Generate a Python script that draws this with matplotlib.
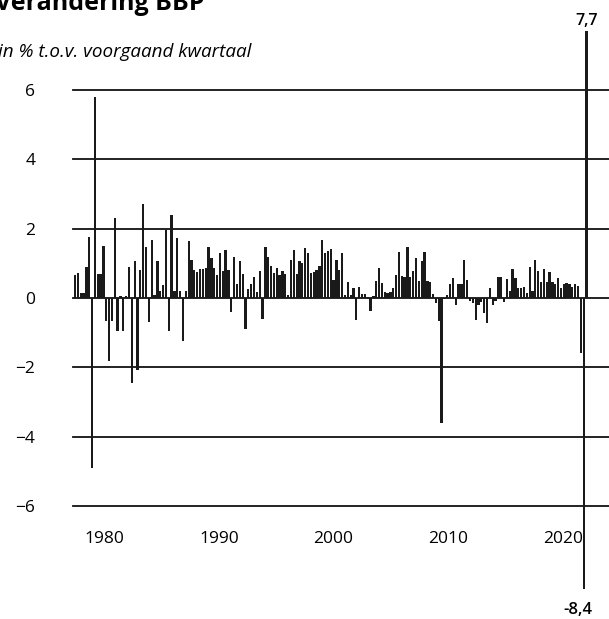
"""
Verandering BBP, kwartaalmutaties in procenten
"""
import matplotlib.pyplot as plt
import numpy as np

# kwartaalmutaties BBP (in % t.o.v. voorgaand kwartaal)
groei = [
    0.65, 0.72, 0.15, 0.15, 0.9, 1.75, -4.9, 5.8, 0.7, 0.7,
    1.5, -0.67, -1.83, -0.67, 2.3, -0.96, 0.05, -0.96, 0.05, 0.9,
    -2.46, 1.08, -2.07, 0.8, 2.7, 1.46, -0.7, 1.67, 0.1, 1.08,
    0.2, 0.37, 1.97, -0.96, 2.4, 0.2, 1.73, 0.2, -1.25, 0.2,
    1.63, 1.1, 0.8, 0.75, 0.85,
    0.85, 0.87, 1.47, 1.15, 0.87, 0.67, 1.29, 0.77, 1.39, 0.8,
    -0.4, 1.17, 0.39, 1.08, 0.69, -0.9, 0.26, 0.39, 0.6, 0.16,
    0.77, -0.61, 1.48, 1.17, 0.92, 0.72, 0.87, 0.67, 0.77, 0.69,
    0.1,
    1.09, 1.38, 0.7, 1.06, 1.01, 1.45, 1.3, 0.71, 0.75, 0.82,
    0.92, 1.66, 1.3, 1.37,
    1.4, 0.53, 1.1, 0.82, 1.3, 0.1, 0.46, 0.1, 0.29, -0.63,
    0.31, 0.12, 0.12, 0.02, -0.37, 0.05, 0.5, 0.87, 0.43, 0.17,
    0.14, 0.17, 0.29, 0.67, 1.33, 0.63, 0.6, 1.46, 0.6, 0.79,
    1.14, 0.48, 1.08, 1.33, 0.5, 0.45, 0.12, -0.14, -0.67, -3.6,
    -0.02, 0.1, 0.39, 0.58, -0.19, 0.4, 0.4, 1.1, 0.53,
    -0.1, -0.14, -0.63, -0.19, -0.12, -0.43, -0.72, 0.29, -0.19, -0.1,
    0.6, 0.6, -0.12, 0.55, 0.19, 0.85, 0.58, 0.29, 0.29, 0.31,
    0.15, 0.89, 0.19, 1.09, 0.79, 0.46, 0.85, 0.46, 0.74, 0.46,
    0.39, 0.58, 0.29, 0.4, 0.43, 0.39, 0.31, 0.4, 0.34, -1.59,
    -8.4, 7.7,
]
jaren = ["1980", "1990", "2000", "2010", "2020"]
y_ticks = [-6, -4, -2, 0, 2, 4, 6]

W, H = 609, 619


def main():
    plt.rcParams['font.family'] = ['Open Sans', 'DejaVu Sans']

    n = len(groei)
    # pixelkalibratie van de scan: eerste en laatste staaf
    first_px, last_px = 75, 586.5
    step = (last_px - first_px) / (n - 1)

    def px2x(px):
        return (px - first_px) / step

    fig = plt.figure(figsize=(W / 100, H / 100), dpi=100)
    ax = fig.add_axes([73 / W, 113 / H, (W - 73) / W, 416 / H])

    x = np.arange(n)
    ax.bar(x, groei, width=0.8, color='#1a1a1a', linewidth=0, clip_on=False, zorder=3)

    for v in y_ticks:
        ax.axhline(v, color='#111111', lw=1.3, clip_on=False, zorder=2)

    ax.set_ylim(-6, 6)
    ax.set_xlim(px2x(73), px2x(W))
    ax.set_yticks(y_ticks)
    ax.set_yticklabels([str(v).replace('-', '\u2212') for v in y_ticks],
                       fontsize=12.5, fontweight='medium')
    ax.set_xticks([px2x(p) for p in [104, 219, 333, 448, 563]])
    ax.set_xticklabels(jaren, fontsize=12.5, fontweight='medium')
    ax.tick_params(length=0)
    ax.tick_params(axis='y', pad=27)
    ax.tick_params(axis='x', pad=18)
    for s in ax.spines.values():
        s.set_visible(False)

    # uitschieters 2020
    ax.text(n - 1, 8.0, "7,7", ha='center', va='center', fontsize=11.5,
            fontweight='semibold', clip_on=False)
    ax.text(px2x(578), -9.0, "-8,4", ha='center', va='center', fontsize=12,
            fontweight='semibold', clip_on=False)

    fig.text(-5 / W, 1 - 10 / H, "Verandering BBP", fontsize=18, fontweight='bold',
             ha='left', va='baseline')
    fig.text(-2 / W, 1 - 57 / H, "in % t.o.v. voorgaand kwartaal", fontsize=13.6,
             style='italic', ha='left', va='baseline')

    fig.savefig("out.png", dpi=100)


if __name__ == "__main__":
    main()
